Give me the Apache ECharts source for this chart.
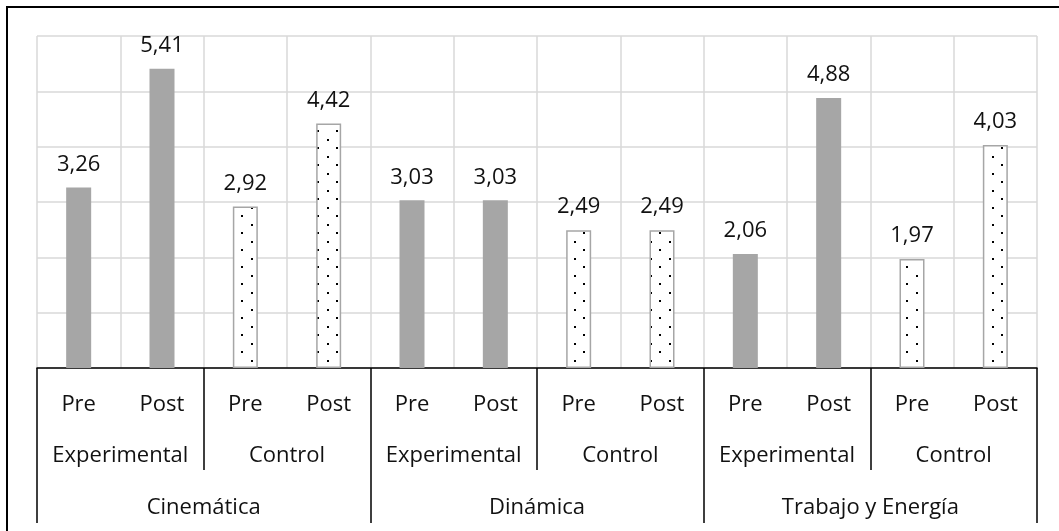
<!DOCTYPE html>
<html>
<head>
<meta charset="utf-8">
<script src="https://cdn.jsdelivr.net/npm/echarts@6/dist/echarts.min.js"></script>
<style>
  html, body { margin: 0; padding: 0; background: #fff; }
  #chart { width: 1059px; height: 531px; }
</style>
</head>
<body>
<div id="chart"></div>
<script>
// Test phases (innermost axis level)
const phases = ['Pre', 'Post', 'Pre', 'Post', 'Pre', 'Post', 'Pre', 'Post', 'Pre', 'Post', 'Pre', 'Post'];
// Groups (middle axis level)
const groups = ['Experimental', 'Control', 'Experimental', 'Control', 'Experimental', 'Control'];
// Topics (outer axis level)
const topics = ['Cinemática', 'Dinámica', 'Trabajo y Energía'];
// Mean scores, one per phase
const scores = [3.26, 5.41, 2.92, 4.42, 3.03, 3.03, 2.49, 2.49, 2.06, 4.88, 1.97, 4.03];
// Group of each bar (drives the fill style)
const barGroup = ['Experimental', 'Experimental', 'Control', 'Control',
                  'Experimental', 'Experimental', 'Control', 'Control',
                  'Experimental', 'Experimental', 'Control', 'Control'];

const FONT = '"Open Sans"';
const FS = 22;

function dotPattern(dotSize) {
  const c = document.createElement('canvas');
  c.width = 19; c.height = 17;
  const g = c.getContext('2d');
  g.fillStyle = '#ffffff';
  g.fillRect(0, 0, 19, 17);
  g.fillStyle = '#000000';
  g.fillRect(4, 3, dotSize, dotSize);
  g.fillRect(13, 11, dotSize, dotSize);
  return c;
}
const dots = dotPattern(2);

const barData = scores.map((v, i) => {
  if (barGroup[i] === 'Experimental') {
    return { value: v, itemStyle: { color: '#A6A6A6' } };
  }
  return {
    value: v,
    itemStyle: {
      color: { image: dots, repeat: 'repeat' },
      borderColor: '#A6A6A6',
      borderWidth: 1.5
    }
  };
});

const chart = echarts.init(document.getElementById('chart'), null, { renderer: 'canvas' });

const labelStyle = { color: '#111', fontFamily: FONT, fontSize: FS };

chart.setOption({
  animation: false,
  backgroundColor: '#ffffff',
  grid: { left: 37, right: 22, top: 36, bottom: 163, containLabel: false },
  graphic: [{
    type: 'rect',
    shape: { x: 7, y: 7, width: 1100, height: 600 },
    style: { fill: 'none', stroke: '#000', lineWidth: 2 },
    silent: true
  }],
  xAxis: [
    {
      type: 'category',
      position: 'bottom',
      data: phases,
      axisLine: { show: true, lineStyle: { color: '#000', width: 1.5 } },
      axisTick: { show: false },
      splitLine: { show: true, interval: 0, lineStyle: { color: '#D9D9D9', width: 1.5 } },
      axisLabel: { interval: 0, margin: 26, ...labelStyle }
    },
    {
      type: 'category',
      position: 'bottom',
      data: groups,
      axisLine: { show: false },
      axisTick: { show: true, interval: 0, length: 102, lineStyle: { color: '#000', width: 1.5 } },
      splitLine: { show: false },
      axisLabel: { interval: 0, margin: 77, ...labelStyle }
    },
    {
      type: 'category',
      position: 'bottom',
      data: topics,
      axisLine: { show: false },
      axisTick: { show: true, interval: 0, length: 155, lineStyle: { color: '#000', width: 1.5 } },
      splitLine: { show: false },
      axisLabel: { interval: 0, margin: 129, ...labelStyle }
    }
  ],
  yAxis: {
    type: 'value',
    min: 0, max: 6, interval: 1,
    axisLine: { show: false },
    axisTick: { show: false },
    axisLabel: { show: false },
    splitLine: { show: true, lineStyle: { color: '#D9D9D9', width: 1.5 } }
  },
  series: [{
    type: 'bar',
    xAxisIndex: 0,
    barWidth: 25,
    data: barData,
    label: {
      show: true,
      position: 'top',
      distance: 12,
      formatter: p => p.value.toFixed(2).replace('.', ','),
      ...labelStyle
    }
  }]
});
</script>
</body>
</html>
